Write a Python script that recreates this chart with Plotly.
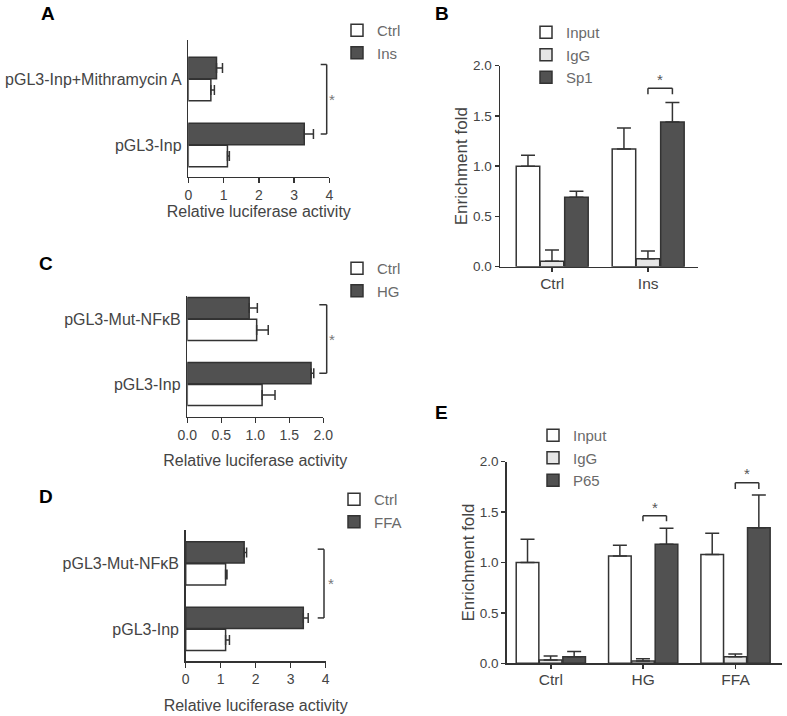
import plotly.graph_objects as go

W, H = 787, 716
FONT = "Liberation Sans, Arial, sans-serif"

# ---------------- data ----------------
# Panel A (horizontal)
a_cats = ["pGL3-Inp", "pGL3-Inp+Mithramycin A"]
a_names = ["Ctrl", "Ins"]
a_ctrl = [1.11, 0.64]
a_ctrl_err = [0.055, 0.10]
a_ins = [3.29, 0.80]
a_ins_err = [0.26, 0.17]
a_ticks = [0, 1, 2, 3, 4]

# Panel C (horizontal)
c_cats = ["pGL3-Inp", "pGL3-Mut-NFκB"]
c_names = ["Ctrl", "HG"]
c_ctrl = [1.10, 1.02]
c_ctrl_err = [0.19, 0.17]
c_hg = [1.82, 0.91]
c_hg_err = [0.04, 0.12]
c_ticks = [0.0, 0.5, 1.0, 1.5, 2.0]

# Panel D (horizontal)
d_cats = ["pGL3-Inp", "pGL3-Mut-NFκB"]
d_names = ["Ctrl", "FFA"]
d_ctrl = [1.14, 1.14]
d_ctrl_err = [0.11, 0.04]
d_ffa = [3.36, 1.67]
d_ffa_err = [0.14, 0.07]
d_ticks = [0, 1, 2, 3, 4]

# Panel B (vertical)
b_cats = ["Ctrl", "Ins"]
b_names = ["Input", "IgG", "Sp1"]
b_input = [1.00, 1.17]
b_input_err = [0.11, 0.21]
b_igg = [0.055, 0.08]
b_igg_err = [0.11, 0.075]
b_sp1 = [0.69, 1.44]
b_sp1_err = [0.06, 0.195]

# Panel E (vertical)
e_cats = ["Ctrl", "HG", "FFA"]
e_names = ["Input", "IgG", "P65"]
e_input = [1.00, 1.065, 1.08]
e_input_err = [0.23, 0.105, 0.21]
e_igg = [0.033, 0.023, 0.066]
e_igg_err = [0.04, 0.023, 0.027]
e_p65 = [0.066, 1.18, 1.345]
e_p65_err = [0.05, 0.16, 0.325]

v_ticks = [0.0, 0.5, 1.0, 1.5, 2.0]

# significance: (category index, bracket height, tick bottom, star height)
b_sig = [(1, 1.775, 1.715, 1.86)]
e_sig = [(1, 1.465, 1.41, 1.55), (2, 1.79, 1.73, 1.88)]

# ---------------- style ----------------
WHITE = "#ffffff"
DARK = "#515151"
LIGHT = "#e6e6e6"
EDGE = "#333333"
AX = "#333333"
TXT = "#444444"
LEG = "#6a6a6a"


def px_x(p):
    return p / W


def px_y(p):
    return 1 - p / H


fig = go.Figure()
layout = dict(
    width=W, height=H, margin=dict(l=0, r=0, t=0, b=0, autoexpand=False),
    paper_bgcolor="white", plot_bgcolor="white",
    barmode="overlay", showlegend=True, template="none", hovermode=False,
    font=dict(family=FONT, color=TXT, size=14),
)
shapes = []
annotations = []

H_W = 0.325
H_OFF = [-0.33, 0.005]
V_W = 0.245
V_OFF = [-0.375, -0.125, 0.13]


def axkeys(i):
    s = "" if i == 1 else str(i)
    return "x" + s, "y" + s, "xaxis" + s, "yaxis" + s, "legend" + s


def label(text, xy, size, color):
    annotations.append(dict(text=text, xref="paper", yref="paper",
                            x=px_x(xy[0]), y=px_y(xy[1]), xanchor="center",
                            yanchor="middle", showarrow=False,
                            font=dict(size=size, color=color)))


def hpanel(i, cats, names, vals, errs, colors, ticks, tickfmt, xdom, ydom, yrange,
           letter, letter_xy, leg_xy, sig_px, star_xy, title_standoff):
    xr, yr, xk, yk, lk = axkeys(i)
    for j, (nm, v, e, col) in enumerate(zip(names, vals, errs, colors)):
        fig.add_trace(go.Bar(
            y=cats, x=v, orientation="h", name=nm,
            width=H_W, offset=H_OFF[j],
            marker=dict(color=col, line=dict(color=EDGE, width=1.5)),
            error_x=dict(type="data", array=e, arrayminus=[0] * len(e),
                         symmetric=False, color=EDGE, thickness=1.5, width=5),
            xaxis=xr, yaxis=yr, legend=lk,
        ))
    layout[xk] = dict(
        domain=[px_x(xdom[0]), px_x(xdom[1])], anchor=yr, automargin=False,
        range=[ticks[0], ticks[-1]], tickvals=ticks,
        ticktext=[format(t, tickfmt) for t in ticks],
        showline=True, linecolor=AX, linewidth=1.5, ticks="outside",
        ticklen=5, tickwidth=1.5, tickcolor=AX, showgrid=False, zeroline=False,
        tickfont=dict(size=14, color=TXT),
        title=dict(text="Relative luciferase activity",
                   font=dict(size=16, color="#444"), standoff=title_standoff),
        fixedrange=True,
    )
    layout[yk] = dict(
        domain=[px_y(ydom[1]), px_y(ydom[0])], anchor=xr, automargin=False,
        type="category", categoryorder="array", categoryarray=cats,
        range=yrange, showline=True, linecolor=AX, linewidth=1.5,
        ticks="", showgrid=False, zeroline=False,
        tickfont=dict(size=16, color=TXT), ticklabelstandoff=2,
        fixedrange=True,
    )
    layout[lk] = dict(
        x=px_x(leg_xy[0]), y=px_y(leg_xy[1]), xanchor="left", yanchor="top",
        font=dict(size=15, color=LEG), bgcolor="rgba(0,0,0,0)",
        tracegroupgap=0, itemclick=False, itemdoubleclick=False,
    )
    # significance bracket between the treated bars of the two constructs
    cen = H_OFF[1] + H_W / 2
    y_top, y_bot = 1 + cen + 0.05, 0 + cen
    x0, x1 = px_x(sig_px[0]), px_x(sig_px[1])
    for (ax0, ay0, ax1, ay1) in [(x0, y_top, x1, y_top), (x1, y_top, x1, y_bot),
                                 (x0, y_bot, x1, y_bot)]:
        shapes.append(dict(type="line", xref="paper", yref=yr, x0=ax0, y0=ay0,
                           x1=ax1, y1=ay1, line=dict(color=EDGE, width=1.5)))
    label("*", star_xy, 15, "#777")
    label("<b>%s</b>" % letter, letter_xy, 19, "black")


def vpanel(i, cats, names, vals, errs, colors, xdom, ydom, xrange, letter,
           letter_xy, leg_xy, sig):
    xr, yr, xk, yk, lk = axkeys(i)
    for j, (nm, v, e, col) in enumerate(zip(names, vals, errs, colors)):
        fig.add_trace(go.Bar(
            x=cats, y=v, name=nm, width=V_W, offset=V_OFF[j],
            marker=dict(color=col, line=dict(color=EDGE, width=1.5)),
            error_y=dict(type="data", array=e, arrayminus=[0] * len(e),
                         symmetric=False, color=EDGE, thickness=1.5, width=7),
            xaxis=xr, yaxis=yr, legend=lk,
        ))
    layout[xk] = dict(
        domain=[px_x(xdom[0]), px_x(xdom[1])], anchor=yr, automargin=False,
        type="category", categoryorder="array", categoryarray=cats,
        range=xrange, showline=True, linecolor=AX, linewidth=1.5,
        ticks="outside", ticklen=4, tickwidth=1.5, tickcolor=AX,
        showgrid=False, zeroline=False, tickfont=dict(size=15.5, color=TXT),
        ticklabelstandoff=-2, fixedrange=True,
    )
    layout[yk] = dict(
        domain=[px_y(ydom[1]), px_y(ydom[0])], anchor=xr, automargin=False,
        range=[v_ticks[0], v_ticks[-1]], tickvals=v_ticks,
        ticktext=[format(t, ".1f") for t in v_ticks],
        showline=True, linecolor=AX, linewidth=1.5, ticks="outside",
        ticklen=4, tickwidth=1.5, tickcolor=AX, showgrid=False, zeroline=False,
        tickfont=dict(size=13.5, color=TXT),
        title=dict(text="Enrichment fold", font=dict(size=17, color="#444"),
                   standoff=1),
        fixedrange=True,
    )
    layout[lk] = dict(
        x=px_x(leg_xy[0]), y=px_y(leg_xy[1]), xanchor="left", yanchor="top",
        font=dict(size=15, color=LEG), bgcolor="rgba(0,0,0,0)",
        tracegroupgap=0, itemclick=False, itemdoubleclick=False,
    )
    ca = V_OFF[1] + V_W / 2
    cb = V_OFF[2] + V_W / 2
    for (g, yb, yt, ys) in sig:
        xa, xb = g + ca, g + cb
        for (ax0, ay0, ax1, ay1) in [(xa, yt, xa, yb), (xa, yb, xb, yb),
                                     (xb, yb, xb, yt)]:
            shapes.append(dict(type="line", xref=xr, yref=yr, x0=ax0, y0=ay0,
                               x1=ax1, y1=ay1, line=dict(color=EDGE, width=1.5)))
        annotations.append(dict(text="*", xref=xr, yref=yr, x=(xa + xb) / 2, y=ys,
                                xanchor="center", yanchor="middle",
                                showarrow=False, font=dict(size=15, color="#555")))
    label("<b>%s</b>" % letter, letter_xy, 19, "black")


hpanel(1, a_cats, a_names, [a_ctrl, a_ins], [a_ctrl_err, a_ins_err], [WHITE, DARK],
       a_ticks, "d", (188.3, 329.3), (40, 176.7), [-0.48, 1.59],
       "A", (48, 14), (337, 14), (320.7, 326.7), (332.3, 99), 2)
hpanel(3, c_cats, c_names, [c_ctrl, c_hg], [c_ctrl_err, c_hg_err], [WHITE, DARK],
       c_ticks, ".1f", (187.3, 323.3), (295.7, 416.7), [-0.5, 1.357],
       "C", (46, 264), (337, 252), (319.3, 326.7), (331.7, 339), 13)
hpanel(4, d_cats, d_names, [d_ctrl, d_ffa], [d_ctrl_err, d_ffa_err], [WHITE, DARK],
       d_ticks, "d", (185.7, 325.7), (530, 661), [-0.49, 1.51],
       "D", (46, 497), (334, 483), (317.7, 324), (330.7, 583), 13)
vpanel(2, b_cats, b_names, [b_input, b_igg, b_sp1], [b_input_err, b_igg_err, b_sp1_err],
       [WHITE, LIGHT, DARK], (500, 697.7), (65.7, 266.7), [-0.544, 1.516],
       "B", (442, 14), (526, 16), b_sig)
vpanel(5, e_cats, e_names, [e_input, e_igg, e_p65], [e_input_err, e_igg_err, e_p65_err],
       [WHITE, LIGHT, DARK], (506.7, 781.7), (461.7, 663.3), [-0.478, 2.5],
       "E", (441.5, 412), (533, 419), e_sig)

layout["shapes"] = shapes
layout["annotations"] = annotations
fig.update_layout(**layout)
fig.write_html(
    "out.html",
    config={"staticPlot": True, "displayModeBar": False},
    post_script="document.body.style.margin='0px';document.body.style.overflow='hidden';",
)
